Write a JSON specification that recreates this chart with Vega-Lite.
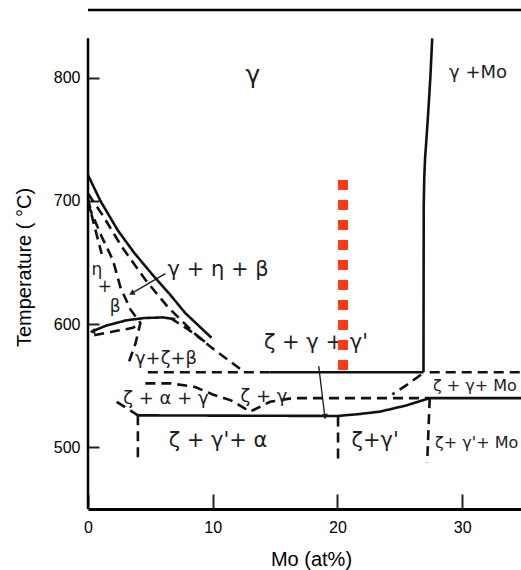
{
  "$schema": "https://vega.github.io/schema/vega-lite/v6.json",
  "width": 433,
  "height": 499,
  "autosize": {"type": "none"},
  "padding": {"left": 88, "top": 10, "right": 0, "bottom": 61},
  "background": "white",
  "config": {
    "view": {"stroke": null},
    "axis": {"grid": false, "labelFont": "Liberation Sans", "titleFont": "Liberation Sans", "labelColor": "#000", "titleColor": "#000", "titleFontWeight": "normal", "labelFontSize": 16, "titleFontSize": 20}
  },
  "datasets": {
    "boundaries": [
      {"id": "A", "i": 0, "Mo": 0, "T": 721, "kind": "established"},
      {"id": "A", "i": 1, "Mo": 1.0, "T": 700, "kind": "established"},
      {"id": "A", "i": 2, "Mo": 2.4, "T": 676, "kind": "established"},
      {"id": "A", "i": 3, "Mo": 3.7, "T": 658, "kind": "established"},
      {"id": "A", "i": 4, "Mo": 5.1, "T": 641, "kind": "established"},
      {"id": "A", "i": 5, "Mo": 6.5, "T": 625, "kind": "established"},
      {"id": "A", "i": 6, "Mo": 7.8, "T": 609, "kind": "established"},
      {"id": "A", "i": 7, "Mo": 9.9, "T": 589, "kind": "established"},
      {"id": "B", "i": 0, "Mo": 0, "T": 706, "kind": "tentative"},
      {"id": "B", "i": 1, "Mo": 1.2, "T": 688, "kind": "tentative"},
      {"id": "B", "i": 2, "Mo": 2.7, "T": 663, "kind": "tentative"},
      {"id": "B", "i": 3, "Mo": 4.6, "T": 636, "kind": "tentative"},
      {"id": "B", "i": 4, "Mo": 6.4, "T": 614, "kind": "tentative"},
      {"id": "B", "i": 5, "Mo": 8.6, "T": 592, "kind": "tentative"},
      {"id": "B", "i": 6, "Mo": 9.9, "T": 581, "kind": "tentative"},
      {"id": "B", "i": 7, "Mo": 12.3, "T": 563, "kind": "tentative"},
      {"id": "C", "i": 0, "Mo": 0, "T": 697, "kind": "tentative"},
      {"id": "C", "i": 1, "Mo": 0.3, "T": 690, "kind": "tentative"},
      {"id": "C", "i": 2, "Mo": 1.1, "T": 671, "kind": "tentative"},
      {"id": "C", "i": 3, "Mo": 2.0, "T": 652, "kind": "tentative"},
      {"id": "C", "i": 4, "Mo": 2.6, "T": 630, "kind": "tentative"},
      {"id": "C", "i": 5, "Mo": 3.4, "T": 612, "kind": "tentative"},
      {"id": "C", "i": 6, "Mo": 4.2, "T": 601, "kind": "tentative"},
      {"id": "C", "i": 7, "Mo": 3.8, "T": 584, "kind": "tentative"},
      {"id": "C", "i": 8, "Mo": 3.2, "T": 567, "kind": "tentative"},
      {"id": "D", "i": 0, "Mo": 0, "T": 702, "kind": "tentative"},
      {"id": "D", "i": 1, "Mo": 0.4, "T": 684, "kind": "tentative"},
      {"id": "D", "i": 2, "Mo": 1.1, "T": 657, "kind": "tentative"},
      {"id": "E", "i": 0, "Mo": 0.3, "T": 594, "kind": "established"},
      {"id": "E", "i": 1, "Mo": 1.5, "T": 599, "kind": "established"},
      {"id": "E", "i": 2, "Mo": 3.0, "T": 603, "kind": "established"},
      {"id": "E", "i": 3, "Mo": 4.5, "T": 605, "kind": "established"},
      {"id": "E", "i": 4, "Mo": 6.0, "T": 605.5, "kind": "established"},
      {"id": "E", "i": 5, "Mo": 7.0, "T": 604, "kind": "established"},
      {"id": "F", "i": 0, "Mo": 0.5, "T": 591, "kind": "tentative"},
      {"id": "F", "i": 1, "Mo": 2.0, "T": 594, "kind": "tentative"},
      {"id": "F", "i": 2, "Mo": 3.6, "T": 597, "kind": "tentative"},
      {"id": "F", "i": 3, "Mo": 4.2, "T": 601, "kind": "tentative"},
      {"id": "G", "i": 0, "Mo": 6.6, "T": 605, "kind": "tentative"},
      {"id": "G", "i": 1, "Mo": 8.0, "T": 596, "kind": "tentative"},
      {"id": "G", "i": 2, "Mo": 9.6, "T": 584, "kind": "tentative"},
      {"id": "H1", "i": 0, "Mo": 4.8, "T": 561, "kind": "tentative"},
      {"id": "H1", "i": 1, "Mo": 14.6, "T": 561, "kind": "tentative"},
      {"id": "H2", "i": 0, "Mo": 14.6, "T": 561, "kind": "established"},
      {"id": "H2", "i": 1, "Mo": 26.9, "T": 561, "kind": "established"},
      {"id": "H3", "i": 0, "Mo": 27.4, "T": 561, "kind": "tentative"},
      {"id": "H3", "i": 1, "Mo": 34.72, "T": 561, "kind": "tentative"},
      {"id": "V", "i": 0, "Mo": 27.6, "T": 832, "kind": "established"},
      {"id": "V", "i": 1, "Mo": 27.45, "T": 800, "kind": "established"},
      {"id": "V", "i": 2, "Mo": 27.3, "T": 775, "kind": "established"},
      {"id": "V", "i": 3, "Mo": 27.15, "T": 752, "kind": "established"},
      {"id": "V", "i": 4, "Mo": 27.03, "T": 735, "kind": "established"},
      {"id": "V", "i": 5, "Mo": 26.96, "T": 718, "kind": "established"},
      {"id": "V", "i": 6, "Mo": 26.92, "T": 695, "kind": "established"},
      {"id": "V", "i": 7, "Mo": 26.9, "T": 561, "kind": "established"},
      {"id": "M", "i": 0, "Mo": 26.7, "T": 559, "kind": "tentative"},
      {"id": "M", "i": 1, "Mo": 25.6, "T": 551, "kind": "tentative"},
      {"id": "M", "i": 2, "Mo": 24.4, "T": 543, "kind": "tentative"},
      {"id": "I", "i": 0, "Mo": 4.6, "T": 552, "kind": "tentative"},
      {"id": "I", "i": 1, "Mo": 6.6, "T": 552, "kind": "tentative"},
      {"id": "I", "i": 2, "Mo": 8.6, "T": 549, "kind": "tentative"},
      {"id": "I", "i": 3, "Mo": 10.0, "T": 543, "kind": "tentative"},
      {"id": "I", "i": 4, "Mo": 11.5, "T": 538, "kind": "tentative"},
      {"id": "I", "i": 5, "Mo": 13.0, "T": 529, "kind": "tentative"},
      {"id": "I", "i": 6, "Mo": 14.6, "T": 537, "kind": "tentative"},
      {"id": "I", "i": 7, "Mo": 16.4, "T": 540, "kind": "tentative"},
      {"id": "I", "i": 8, "Mo": 27.4, "T": 540, "kind": "tentative"},
      {"id": "I0", "i": 0, "Mo": 2.3, "T": 537, "kind": "tentative"},
      {"id": "I0", "i": 1, "Mo": 4.0, "T": 526, "kind": "tentative"},
      {"id": "J", "i": 0, "Mo": 4.0, "T": 526, "kind": "established"},
      {"id": "J", "i": 1, "Mo": 20.0, "T": 525.5, "kind": "established"},
      {"id": "J", "i": 2, "Mo": 21.7, "T": 527, "kind": "established"},
      {"id": "J", "i": 3, "Mo": 23.4, "T": 529, "kind": "established"},
      {"id": "J", "i": 4, "Mo": 25.5, "T": 534, "kind": "established"},
      {"id": "J", "i": 5, "Mo": 27.4, "T": 540, "kind": "established"},
      {"id": "J", "i": 6, "Mo": 34.72, "T": 540, "kind": "established"},
      {"id": "K1", "i": 0, "Mo": 4.0, "T": 526, "kind": "tentative"},
      {"id": "K1", "i": 1, "Mo": 4.0, "T": 488, "kind": "tentative"},
      {"id": "K2", "i": 0, "Mo": 20.05, "T": 525, "kind": "tentative"},
      {"id": "K2", "i": 1, "Mo": 20.05, "T": 487, "kind": "tentative"},
      {"id": "K3", "i": 0, "Mo": 27.4, "T": 540, "kind": "tentative"},
      {"id": "K3", "i": 1, "Mo": 27.2, "T": 488, "kind": "tentative"}
    ],
    "pointers": [
      {"id": "P1", "i": 0, "Mo": 6.2, "T": 641},
      {"id": "P1", "i": 1, "Mo": 3.5, "T": 625},
      {"id": "P2", "i": 0, "Mo": 18.5, "T": 566},
      {"id": "P2", "i": 1, "Mo": 19.0, "T": 524}
    ],
    "labelsBig": [
      {"Mo": 10.43, "T": 644, "label": "γ + η + β"},
      {"Mo": 18.28, "T": 584.7, "label": "ζ + γ + γ'"},
      {"Mo": 10.43, "T": 505.2, "label": "ζ + γ'+ α"},
      {"Mo": 23.02, "T": 505.2, "label": "ζ+γ'"}
    ],
    "labelsMid": [
      {"Mo": 31.28, "T": 804, "label": "γ +Mo"},
      {"Mo": 6.25, "T": 571.7, "label": "γ+ζ+β"},
      {"Mo": 6.25, "T": 539.3, "label": "ζ + α + γ"},
      {"Mo": 14.11, "T": 540.9, "label": "ζ + γ"}
    ],
    "labelsSmall": [
      {"Mo": 0.72, "T": 644, "label": "η"},
      {"Mo": 1.36, "T": 630.2, "label": "+"},
      {"Mo": 2.17, "T": 613.9, "label": "β"}
    ],
    "labelsEdge": [
      {"Mo": 27.67, "T": 549.8, "label": "ζ + γ+ Mo"},
      {"Mo": 27.83, "T": 503.5, "label": "ζ+ γ'+ Mo"}
    ],
    "composition": [
      {"Mo": 20.45, "T": 717, "T_end": 561}
    ]
  },
  "layer": [
    {
      "data": {"name": "boundaries"},
      "mark": {"type": "line", "color": "#111", "strokeWidth": 2.6, "strokeCap": "butt"},
      "encoding": {
        "x": {"field": "Mo", "type": "quantitative", "scale": {"domain": [0, 34.72], "nice": false, "zero": false},
          "axis": {"values": [0, 10, 20, 30], "tickSize": -15, "tickWidth": 2, "tickColor": "#222", "labelPadding": 25, "labelFlush": false, "domainWidth": 3, "domainColor": "#000", "title": "Mo (at%)", "titleX": 223, "titleY": 56, "titleBaseline": "alphabetic", "titleAlign": "center"}},
        "y": {"field": "T", "type": "quantitative", "scale": {"domain": [450, 855], "nice": false, "zero": false},
          "axis": {"values": [500, 600, 700, 800], "tickSize": -11, "tickWidth": 2, "tickColor": "#222", "labelPadding": 19, "domain": false, "title": "Temperature ( °C)", "titleX": -58, "titleY": 257, "titleBaseline": "alphabetic", "titleAlign": "center", "titleAngle": -90}},
        "detail": {"field": "id"},
        "order": {"field": "i"},
        "strokeDash": {"field": "kind", "type": "nominal", "scale": {"domain": ["established", "tentative"], "range": [[1, 0], [10, 6]]}, "legend": null}
      }
    },
    {
      "data": {"name": "pointers"},
      "mark": {"type": "line", "color": "#1a1a1a", "strokeWidth": 1.3},
      "encoding": {
        "x": {"field": "Mo", "type": "quantitative"},
        "y": {"field": "T", "type": "quantitative"},
        "detail": {"field": "id"},
        "order": {"field": "i"}
      }
    },
    {
      "data": {"values": [{"Mo": 3.5, "T": 625}]},
      "mark": {"type": "point", "shape": "triangle-up", "angle": 240, "size": 40, "filled": true, "color": "#1a1a1a", "opacity": 1},
      "encoding": {"x": {"field": "Mo", "type": "quantitative"}, "y": {"field": "T", "type": "quantitative"}}
    },
    {
      "data": {"values": [{"Mo": 19.0, "T": 525}]},
      "mark": {"type": "point", "shape": "triangle-up", "angle": 173, "size": 40, "filled": true, "color": "#1a1a1a", "opacity": 1},
      "encoding": {"x": {"field": "Mo", "type": "quantitative"}, "y": {"field": "T", "type": "quantitative"}}
    },
    {
      "data": {"values": [{"Mo": 0.35, "T": 594}]},
      "mark": {"type": "point", "shape": "triangle-up", "angle": 260, "size": 40, "filled": true, "color": "#1a1a1a", "opacity": 1},
      "encoding": {"x": {"field": "Mo", "type": "quantitative"}, "y": {"field": "T", "type": "quantitative"}}
    },
    {
      "data": {"values": [{"T": 855}]},
      "mark": {"type": "rule", "color": "#000", "strokeWidth": 2.5},
      "encoding": {"y": {"field": "T", "type": "quantitative"}}
    },
    {
      "data": {"values": [{"Mo": 0, "T": 450, "T2": 832}]},
      "mark": {"type": "rule", "color": "#000", "strokeWidth": 2.5},
      "encoding": {"x": {"field": "Mo", "type": "quantitative"}, "y": {"field": "T", "type": "quantitative"}, "y2": {"field": "T2"}}
    },
    {
      "data": {"values": [{"Mo": 13.23, "T": 802, "label": "γ"}]},
      "mark": {"type": "text", "font": "DejaVu Sans", "fontSize": 25, "color": "#1e1e1e", "align": "center", "baseline": "middle"},
      "encoding": {"x": {"field": "Mo", "type": "quantitative"}, "y": {"field": "T", "type": "quantitative"}, "text": {"field": "label"}}
    },
    {
      "data": {"name": "labelsBig"},
      "mark": {"type": "text", "font": "DejaVu Sans", "fontSize": 21, "color": "#1e1e1e", "align": "center", "baseline": "middle"},
      "encoding": {"x": {"field": "Mo", "type": "quantitative"}, "y": {"field": "T", "type": "quantitative"}, "text": {"field": "label"}}
    },
    {
      "data": {"name": "labelsMid"},
      "mark": {"type": "text", "font": "DejaVu Sans", "fontSize": 18, "color": "#1e1e1e", "align": "center", "baseline": "middle"},
      "encoding": {"x": {"field": "Mo", "type": "quantitative"}, "y": {"field": "T", "type": "quantitative"}, "text": {"field": "label"}}
    },
    {
      "data": {"name": "labelsSmall"},
      "mark": {"type": "text", "font": "DejaVu Sans", "fontSize": 17, "color": "#1e1e1e", "align": "center", "baseline": "middle"},
      "encoding": {"x": {"field": "Mo", "type": "quantitative"}, "y": {"field": "T", "type": "quantitative"}, "text": {"field": "label"}}
    },
    {
      "data": {"name": "labelsEdge"},
      "mark": {"type": "text", "font": "DejaVu Sans", "fontSize": 16, "color": "#1e1e1e", "align": "left", "baseline": "middle"},
      "encoding": {"x": {"field": "Mo", "type": "quantitative"}, "y": {"field": "T", "type": "quantitative"}, "text": {"field": "label"}}
    },
    {
      "data": {"name": "composition"},
      "mark": {"type": "rule", "color": "#fe3a12", "strokeWidth": 10, "strokeDash": [10, 10], "strokeCap": "butt"},
      "encoding": {"x": {"field": "Mo", "type": "quantitative"}, "y": {"field": "T", "type": "quantitative"}, "y2": {"field": "T_end"}}
    }
  ]
}
